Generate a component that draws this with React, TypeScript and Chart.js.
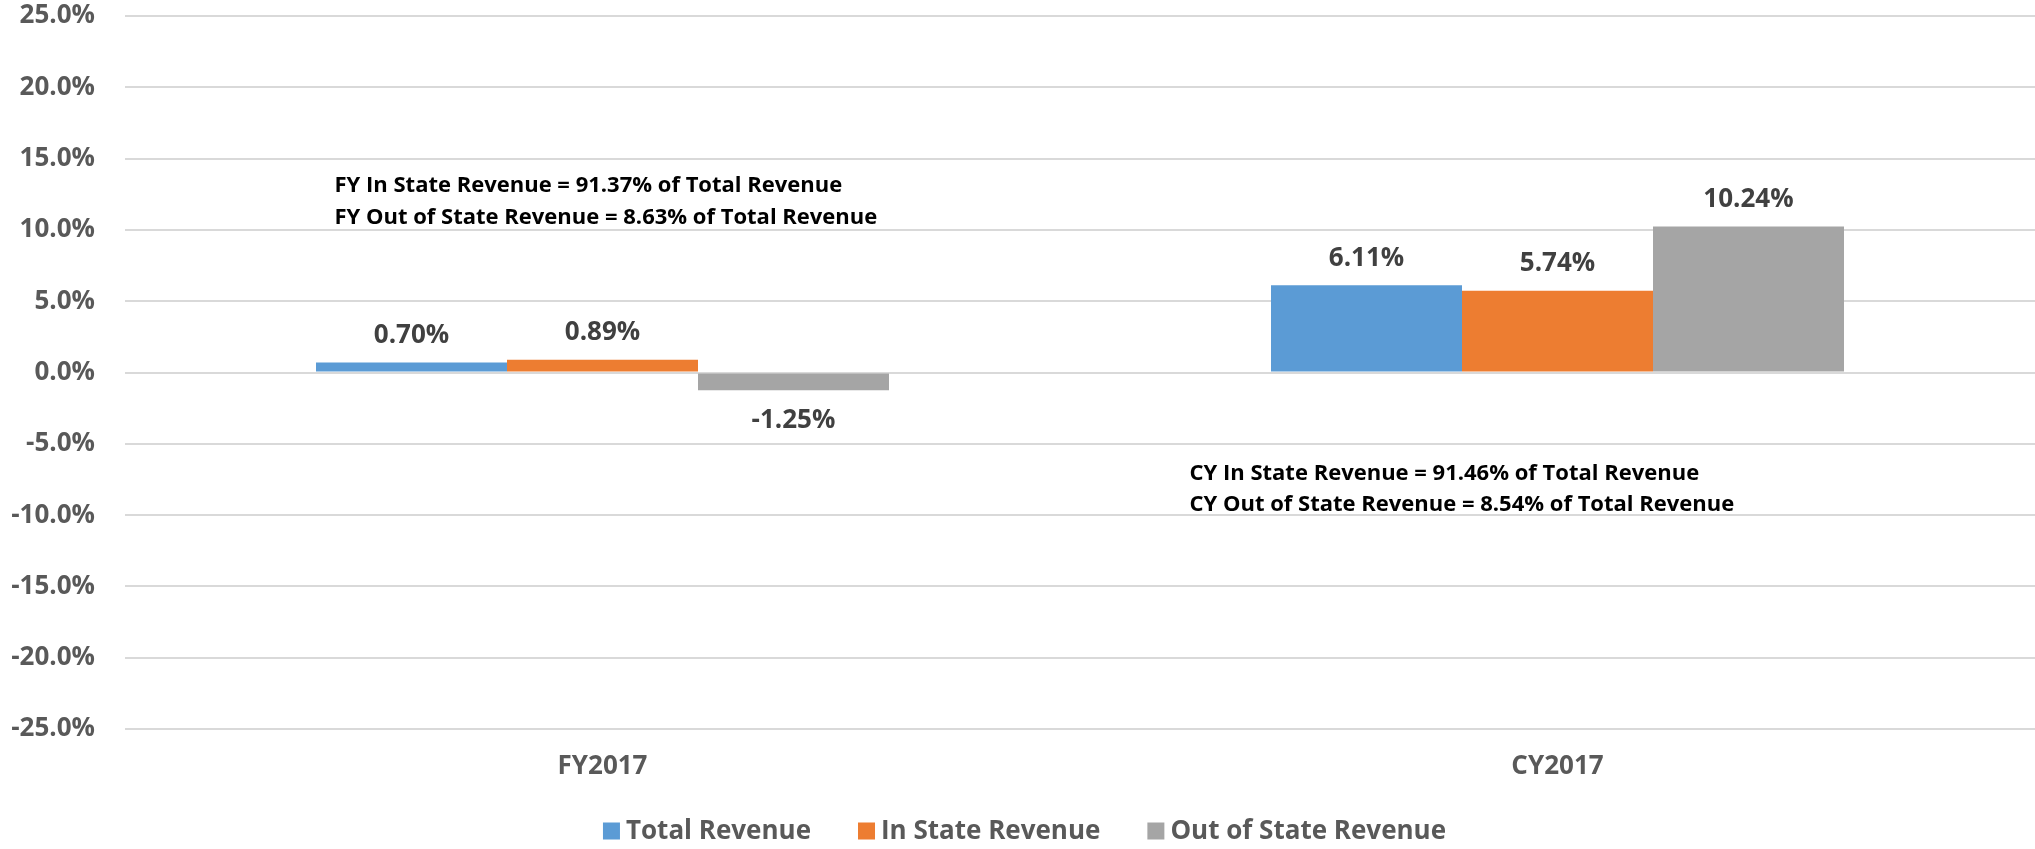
import React, { useEffect, useRef } from "react";
import { Chart, registerables } from "chart.js";

Chart.register(...registerables);

const categories = ["FY2017", "CY2017"];
const seriesNames = ["Total Revenue", "In State Revenue", "Out of State Revenue"];
const totalRevenue = [0.70, 6.11];
const inStateRevenue = [0.89, 5.74];
const outOfStateRevenue = [-1.25, 10.24];
const seriesColors = ["#5B9BD5", "#ED7D31", "#A5A5A5"];
const yTicks = { min: -25, max: 25, step: 5 };
const notes = [
  ["FY In State Revenue = 91.37% of Total Revenue", "FY Out of State Revenue = 8.63% of Total Revenue"],
  ["CY In State Revenue = 91.46% of Total Revenue", "CY Out of State Revenue = 8.54% of Total Revenue"],
];

const FONT = "'Open Sans', 'DejaVu Sans', sans-serif";

const labelPlugin = {
  id: "valueLabels",
  afterDatasetsDraw(chart: any) {
    const ctx = chart.ctx;
    ctx.save();
    ctx.font = `bold 26px ${FONT}`;
    ctx.fillStyle = "#404040";
    ctx.textAlign = "center";
    ctx.textBaseline = "middle";
    chart.data.datasets.forEach((ds: any, di: number) => {
      const meta = chart.getDatasetMeta(di);
      meta.data.forEach((el: any, i: number) => {
        const v = ds.data[i];
        const txt = v.toFixed(2) + "%";
        const y = v >= 0 ? el.y - 27 : el.y + 30;
        ctx.fillText(txt, el.x, y);
      });
    });
    ctx.restore();
  },
};

const notePlugin = {
  id: "notes",
  afterDraw(chart: any) {
    const ctx = chart.ctx;
    const xs = chart.scales.x;
    const ys = chart.scales.y;
    ctx.save();
    ctx.font = `bold 22px ${FONT}`;
    ctx.fillStyle = "#000000";
    ctx.textAlign = "left";
    ctx.textBaseline = "middle";
    const anchors = [
      { dx: -268, y1: 13.08, y2: 10.83 },
      { dx: -368, y1: -7.12, y2: -9.29 },
    ];
    notes.forEach((lines, i) => {
      const a = anchors[i];
      const x = xs.getPixelForValue(i) + a.dx;
      ctx.fillText(lines[0], x, ys.getPixelForValue(a.y1));
      ctx.fillText(lines[1], x, ys.getPixelForValue(a.y2));
    });
    ctx.restore();
  },
};

const legendPlugin = {
  id: "customLegend",
  afterDraw(chart: any) {
    const ctx = chart.ctx;
    ctx.save();
    ctx.font = `bold 26px ${FONT}`;
    ctx.textBaseline = "middle";
    ctx.textAlign = "left";
    const box = 17;
    const gapBox = 6;
    const gapItem = 47;
    const widths = seriesNames.map((n) => ctx.measureText(n).width);
    const total = widths.reduce((s, w) => s + box + gapBox + w, 0) + gapItem * (seriesNames.length - 1);
    let x = chart.width / 2 + 7 - total / 2;
    const cy = 831;
    seriesNames.forEach((n, i) => {
      ctx.fillStyle = seriesColors[i];
      ctx.fillRect(x, cy - box / 2, box, box);
      x += box + gapBox;
      ctx.fillStyle = "#595959";
      ctx.fillText(n, x, cy + 1);
      x += widths[i] + gapItem;
    });
    ctx.restore();
  },
};

export default function App() {
  const ref = useRef<HTMLCanvasElement | null>(null);
  useEffect(() => {
    document.body.style.margin = "0";
    const values = [totalRevenue, inStateRevenue, outOfStateRevenue];
    const chart = new Chart(ref.current as HTMLCanvasElement, {
      type: "bar",
      data: {
        labels: categories,
        datasets: seriesNames.map((name, i) => ({
          label: name,
          data: values[i],
          backgroundColor: seriesColors[i],
          borderWidth: 0,
          categoryPercentage: 0.6,
          barPercentage: 1.0,
        })),
      },
      options: {
        animation: false,
        responsive: false,
        maintainAspectRatio: false,
        layout: { padding: { top: 16, right: 0, left: 0, bottom: 0 } },
        plugins: { legend: { display: false }, tooltip: { enabled: false } },
        scales: {
          x: {
            grid: { display: false, drawTicks: false },
            border: { display: false },
            ticks: {
              font: { family: FONT, size: 26, weight: "bold" },
              color: "#595959",
              padding: 22,
            },
            afterFit: (s: any) => {
              s.height = 120;
              s.paddingLeft = 0;
              s.paddingRight = 0;
            },
          },
          y: {
            min: yTicks.min,
            max: yTicks.max,
            grid: { color: "#d9d9d9", lineWidth: 2, drawTicks: false },
            border: { display: false },
            ticks: {
              stepSize: yTicks.step,
              font: { family: FONT, size: 26, weight: "bold" },
              color: "#595959",
              padding: 30,
              callback: (v: any) => Number(v).toFixed(1) + "%",
            },
            afterFit: (s: any) => {
              s.width = 125;
              s.paddingTop = 0;
              s.paddingBottom = 0;
            },
          },
        },
      },
      plugins: [labelPlugin, notePlugin, legendPlugin],
    });
    return () => chart.destroy();
  }, []);
  return (
    <div style={{ width: 2035, height: 849 }}>
      <canvas ref={ref} width={2035} height={849} style={{ display: "block" }} />
    </div>
  );
}
